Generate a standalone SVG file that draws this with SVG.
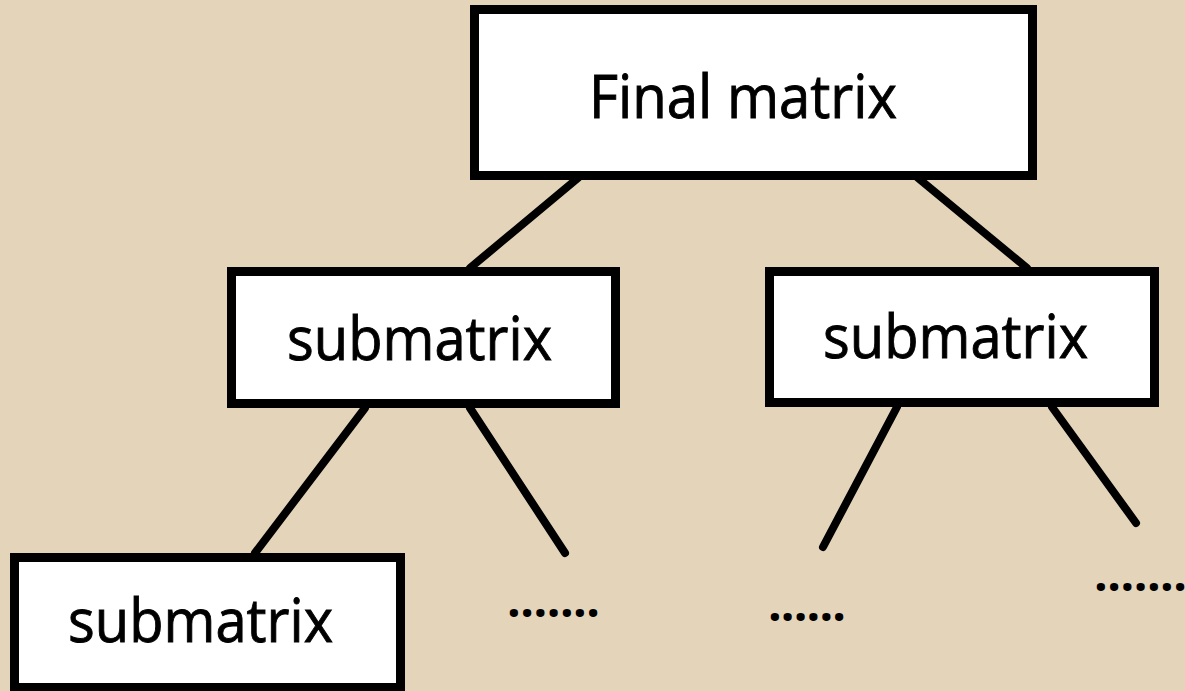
<svg xmlns="http://www.w3.org/2000/svg" width="1185" height="691" viewBox="0 0 1185 691">
  <style>
    .box { fill: #ffffff; stroke: #000000; stroke-width: 9; }
    .label { font-family: "Open Sans", "Liberation Sans", sans-serif; font-size: 60px; fill: #000000; stroke: #000000; stroke-width: 0.9; }
    .dots { font-family: "Open Sans", "Liberation Sans", sans-serif; font-size: 48px; font-weight: bold; fill: #000000; }
    .edge { stroke: #000000; stroke-width: 8; stroke-linecap: round; fill: none; }
  </style>
  <rect width="1185" height="691" fill="#E4D4BA"/>

  <!-- tree edges -->
  <g id="connectors">
    <line class="edge" x1="578" y1="178" x2="470" y2="268"/>
    <line class="edge" x1="918" y1="178" x2="1027" y2="268"/>
    <line class="edge" x1="365" y1="408" x2="255" y2="553"/>
    <line class="edge" x1="470" y1="408" x2="565" y2="553"/>
    <line class="edge" x1="897" y1="407" x2="823" y2="547"/>
    <line class="edge" x1="1052" y1="407" x2="1136" y2="523"/>
  </g>

  <g id="final-matrix">
    <rect class="box" x="474.5" y="9.5" width="558" height="166"/>
    <text class="label" x="589" y="118" textLength="308" lengthAdjust="spacingAndGlyphs">Final matrix</text>
  </g>

  <g id="submatrix-left">
    <rect class="box" x="231.5" y="271.5" width="384" height="132"/>
    <text class="label" x="287" y="360" textLength="265" lengthAdjust="spacingAndGlyphs">submatrix</text>
  </g>

  <g id="submatrix-right">
    <rect class="box" x="769.5" y="271.5" width="385" height="131"/>
    <text class="label" x="823" y="358" textLength="265" lengthAdjust="spacingAndGlyphs">submatrix</text>
  </g>

  <g id="submatrix-bottom">
    <rect class="box" x="14.5" y="557.5" width="386" height="130"/>
    <text class="label" x="68" y="642" textLength="265" lengthAdjust="spacingAndGlyphs">submatrix</text>
  </g>

  <g id="ellipsis-1">
    <text class="dots" x="507" y="617" textLength="93" lengthAdjust="spacing">.......</text>
  </g>
  <g id="ellipsis-2">
    <text class="dots" x="768" y="621" textLength="78" lengthAdjust="spacing">......</text>
  </g>
  <g id="ellipsis-3">
    <text class="dots" x="1094" y="591" textLength="93" lengthAdjust="spacing">.......</text>
  </g>
</svg>
